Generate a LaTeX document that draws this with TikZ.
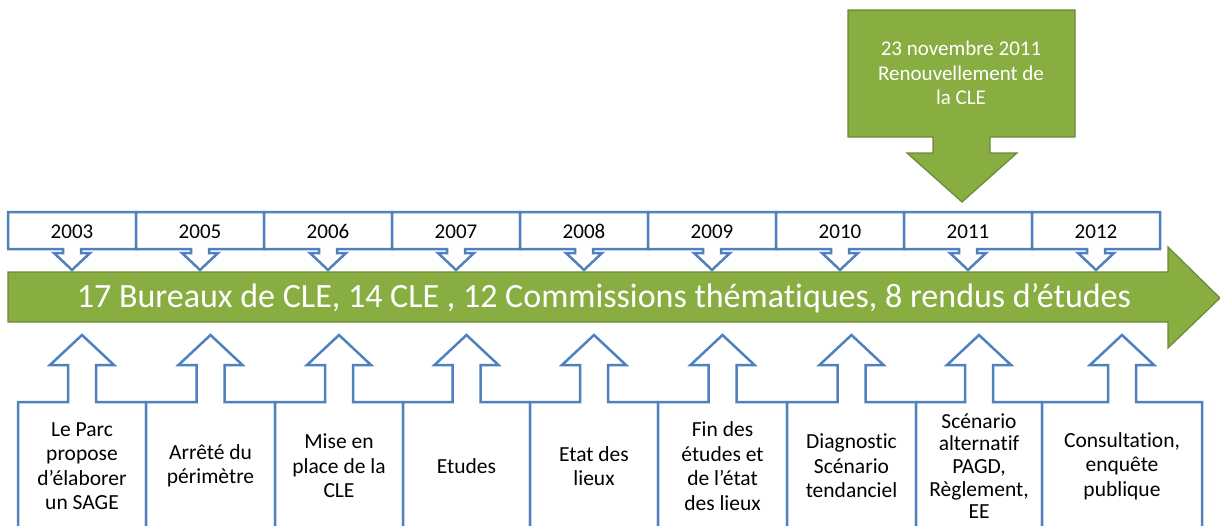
\documentclass[tikz,border=0pt]{standalone}
\usepackage{fontspec}
\setmainfont{Carlito}[Ligatures=NoCommon]
\usepackage{xcolor}
\usepackage{tikz}
\usetikzlibrary{positioning,calc}
\definecolor{calloutblue}{RGB}{79,129,189}
\definecolor{sagegreen}{RGB}{136,174,66}
\definecolor{sagedark}{RGB}{108,136,56}

\begin{document}
\begin{tikzpicture}[x=1pt, y=-1pt,
    bluecallout/.style={draw=calloutblue, line width=2.5pt, fill=white, line join=miter},
    greenshape/.style={draw=sagedark, line width=1.2pt, fill=sagegreen},
    yearlabel/.style={font=\fontsize{21}{24.5}\selectfont, text=black, anchor=base},
    steplabel/.style={font=\fontsize{21.5}{24.5}\selectfont, align=center, text=black}]
    \useasboundingbox (0,0) rectangle (1220,525);
    \clip (0,0) rectangle (1220,525);

    % Renouvellement de la CLE
    \draw[greenshape] (848,10) -- (1075,10) -- (1075,137) -- (990,137) -- (990,153) -- (1017,153)
        -- (962,202) -- (907,153) -- (933,153) -- (933,137) -- (848,137) -- cycle;
    \node[font=\fontsize{21}{24.5}\selectfont, text=white, align=center] (renouv) at (961,73)
        {23 novembre 2011\\Renouvellement de\\la CLE};

    % Main arrow
    \draw[greenshape] (8,272) -- (1168,272) -- (1168,247) -- (1220,298) -- (1168,348) -- (1168,322) -- (8,322) -- cycle;
    \node[font=\fontsize{34}{40}\selectfont, text=white] (bandeau) at (604,298)
        {17 Bureaux de CLE, 14 CLE , 12 Commissions thématiques, 8 rendus d’études};

    % Years
    \foreach \yr [count=\i from 0, evaluate=\i as \xa using 8+128*\i, evaluate=\i as \cx using 72+128*\i]
        in {2003,2005,2006,2007,2008,2009,2010,2011,2012} {
        \draw[bluecallout] (\xa,212) -- (\xa+128,212) -- (\xa+128,249) -- (\cx+9,249) -- (\cx+9,253) -- (\cx+18,253)
            -- (\cx,270) -- (\cx-18,253) -- (\cx-9,253) -- (\cx-9,249) -- (\xa,249) -- cycle;
        \node[yearlabel] (y\yr) at (\cx,238.5) {\yr};
    }

    % Steps
    \foreach \xa/\xb/\txt [count=\i, evaluate=\xa as \cx using (\xa+\xb)/2] in {
        18/146/{Le Parc\\propose\\d’élaborer\\un SAGE},
        146/275/{Arrêté du\\périmètre},
        275/403/{Mise en\\place de la\\CLE},
        403/530/{Etudes},
        530/658/{Etat des\\lieux},
        658/787/{Fin des\\études et\\de l’état\\des lieux},
        787/916/{Diagnostic\\Scénario\\tendanciel},
        916/1042/{Scénario\\[-1.8pt]alternatif\\[-1.8pt]PAGD,\\[-1.8pt]Règlement,\\[-1.8pt]EE},
        1042/1202/{Consultation,\\enquête\\publique}} {
        \draw[bluecallout] (\xa,535) -- (\xa,402) -- (\cx-14,402) -- (\cx-14,365) -- (\cx-32,365) -- (\cx,335)
            -- (\cx+32,365) -- (\cx+14,365) -- (\cx+14,402) -- (\xb,402) -- (\xb,535);
        \node[steplabel] (s\i) at (\cx,466) {\txt};
    }

\end{tikzpicture}
\end{document}
